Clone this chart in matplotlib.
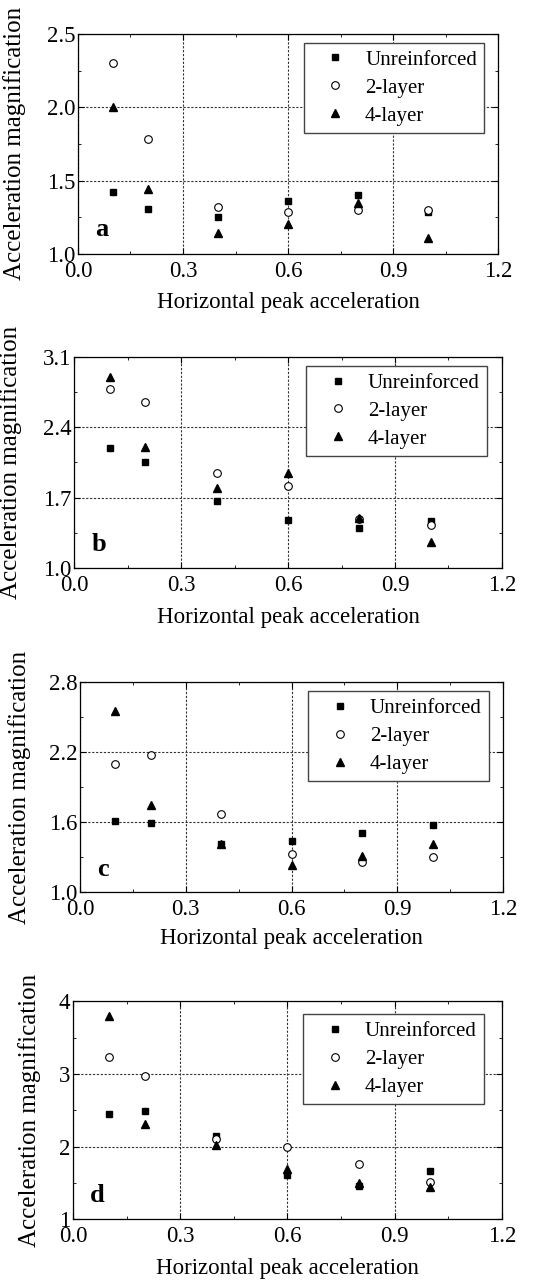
import matplotlib
matplotlib.use("Agg")
import matplotlib.pyplot as plt
import numpy as np
from matplotlib.ticker import MultipleLocator, FormatStrFormatter

plt.rcParams['font.family'] = ['Liberation Serif', 'DejaVu Serif']
plt.rcParams['font.size'] = 13

pga = [0.1, 0.2, 0.4, 0.6, 0.8, 1.0]

# acceleration magnification, one set per panel
unre_a = [1.42, 1.305, 1.25, 1.36, 1.40, 1.285]
two_a = [2.30, 1.78, 1.32, 1.285, 1.30, 1.30]
four_a = [2.00, 1.44, 1.145, 1.205, 1.35, 1.105]

unre_b = [2.19, 2.05, 1.665, 1.475, 1.40, 1.47]
two_b = [2.78, 2.65, 1.945, 1.815, 1.49, 1.43]
four_b = [2.90, 2.20, 1.80, 1.94, 1.50, 1.26]

unre_c = [1.61, 1.595, 1.41, 1.44, 1.505, 1.575]
two_c = [2.10, 2.175, 1.67, 1.33, 1.26, 1.305]
four_c = [2.555, 1.745, 1.415, 1.235, 1.315, 1.41]

unre_d = [2.45, 2.485, 2.14, 1.605, 1.46, 1.67]
two_d = [3.235, 2.97, 2.105, 1.995, 1.76, 1.515]
four_d = [3.80, 2.305, 2.02, 1.69, 1.50, 1.445]

panels = [
    ('a', unre_a, two_a, four_a, 1.0, 2.5, 0.5, '%.1f'),
    ('b', unre_b, two_b, four_b, 1.0, 3.1, 0.7, '%.1f'),
    ('c', unre_c, two_c, four_c, 1.0, 2.8, 0.6, '%.1f'),
    ('d', unre_d, two_d, four_d, 1, 4, 1, '%d'),
]

rects = [
    [0.143, 0.802, 0.771, 0.1716],
    [0.136, 0.557, 0.785, 0.1646],
    [0.147, 0.304, 0.776, 0.1638],
    [0.134, 0.049, 0.787, 0.170],
]
leg_anchor = [(0.967, 0.959), (0.965, 0.957), (0.967, 0.957), (0.958, 0.94)]
ylab_x = [-0.124, -0.121, -0.116, -0.075]
xlab_y = [-0.173, -0.185, -0.171, -0.179]

fig = plt.figure(figsize=(5.45, 12.82), dpi=100)

for (tag, u, t2, t4, y0, y1, ystep, yfmt), r, anc, lx, ly in zip(panels, rects, leg_anchor, ylab_x, xlab_y):
    ax = fig.add_axes(r)
    ax.plot(pga, u, 's', color='k', ms=5, label='Unreinforced')
    ax.plot(pga, t2, 'o', mfc='white', mec='k', mew=0.8, ms=5.5, label='2-layer')
    ax.plot(pga, t4, '^', color='k', ms=6, label='4-layer')
    ax.set_xlim(0, 1.2)
    ax.set_ylim(y0, y1)
    ax.xaxis.set_major_locator(MultipleLocator(0.3))
    ax.xaxis.set_minor_locator(MultipleLocator(0.15))
    ax.set_yticks(np.arange(y0, y1 + ystep / 10, ystep))
    ax.set_yticks(np.arange(y0 + ystep / 2, y1, ystep), minor=True)
    ax.xaxis.set_major_formatter(FormatStrFormatter('%.1f'))
    ax.yaxis.set_major_formatter(FormatStrFormatter(yfmt))
    ax.tick_params(which='both', direction='in', top=True, right=True, labelsize=16.5)
    ax.tick_params(axis='x', pad=5)
    ax.tick_params(axis='y', pad=2)
    ax.tick_params(which='major', length=4)
    ax.tick_params(which='minor', length=2.5)
    ax.grid(True, which='major', ls=(0, (2, 1.5)), color='#333333', lw=0.8)
    for s in ax.spines.values():
        s.set_linewidth(0.9)
    ax.set_xlabel('Horizontal peak acceleration', fontsize=16.5)
    ax.set_ylabel('Acceleration magnification', fontsize=18)
    ax.xaxis.set_label_coords(0.5, ly)
    ax.yaxis.set_label_coords(lx, 0.5)
    ax.text(0.04, 0.11, tag, transform=ax.transAxes, fontsize=19, fontweight='bold',
            va='center', ha='left')
    leg = ax.legend(loc='upper right', bbox_to_anchor=anc, fontsize=15, frameon=True,
                    fancybox=False, edgecolor='#444444', framealpha=1,
                    handlelength=2.3, handletextpad=0.3, borderpad=0.35,
                    labelspacing=0.4, borderaxespad=0)
    leg.get_frame().set_linewidth(1.0)

fig.savefig('out.png', dpi=100)
